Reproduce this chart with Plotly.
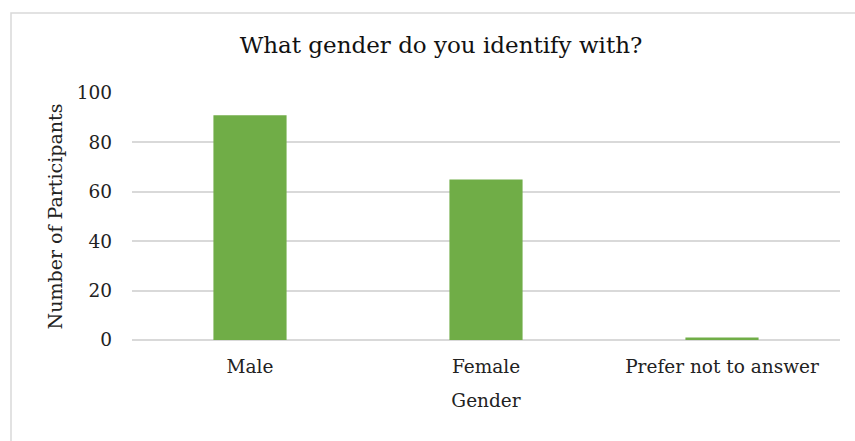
import plotly.graph_objects as go

categories = ["Male", "Female", "Prefer not to answer"]
participants = [91, 65, 1]
y_ticks = [0, 20, 40, 60, 80, 100]

FONT = "DejaVu Serif"

fig = go.Figure(go.Bar(
    x=categories, y=participants,
    marker=dict(color="#70AD47", line=dict(width=0)),
    width=0.31,
))

W, H = 855, 441
L, R, T, B = 132, 15, 93, 101
pw = W - L - R
ph = H - T - B

fig.update_layout(
    width=W, height=H,
    margin=dict(l=L, r=R, t=T, b=B),
    paper_bgcolor="white", plot_bgcolor="white",
    font=dict(family=FONT, size=18, color="#222222"),
    title=dict(text="What gender do you identify with?", x=441 / W, xref="container",
               y=1 - 45 / H, yref="container", yanchor="middle", xanchor="center",
               font=dict(family=FONT, size=23, color="#111111")),
    showlegend=False,
    xaxis=dict(showgrid=False, showline=False, ticks="",
               tickfont=dict(family=FONT, size=18.5, color="#222222"),
               ticklabelstandoff=13,
               title=dict(text="Gender", font=dict(family=FONT, size=18.5, color="#222222"), standoff=18)),
    yaxis=dict(range=[0, 100], tickvals=y_ticks, showgrid=True, gridcolor="#D9D9D9", gridwidth=1.5,
               zeroline=True, zerolinecolor="#D9D9D9", zerolinewidth=1.5, showline=False, ticks="",
               tickfont=dict(family=FONT, size=18.5, color="#222222"),
               ticklabelstandoff=19,
               title=dict(text="Number of Participants", font=dict(family=FONT, size=19, color="#222222"), standoff=9)),
    shapes=[dict(type="rect", xref="paper", yref="paper",
                 x0=(11 - L) / pw, x1=(W + 5 - L) / pw,
                 y0=-(H + 5 - T - ph) / ph, y1=(H - 13 - B) / ph,
                 line=dict(color="#D9D9D9", width=1.5), fillcolor="rgba(0,0,0,0)", layer="below")],
)

fig.write_html("out.html")
